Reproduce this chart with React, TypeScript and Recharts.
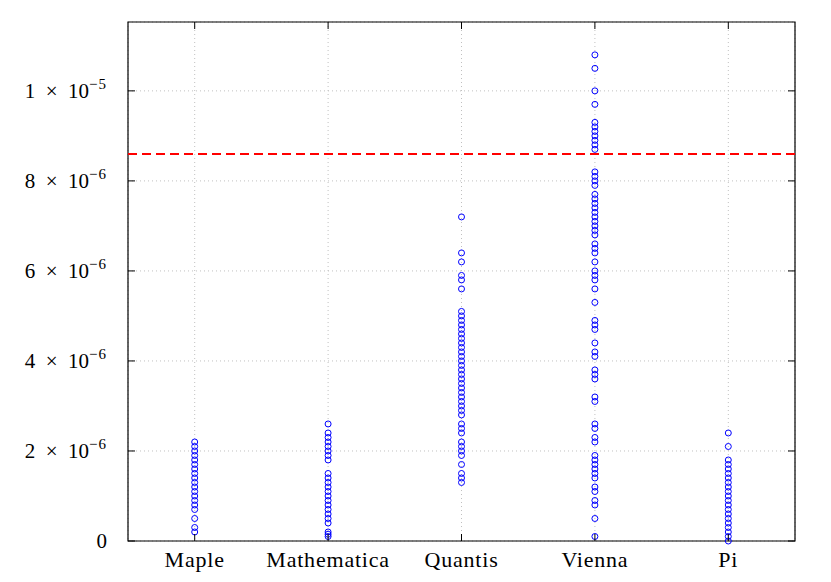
import {
	CartesianGrid,
	ReferenceArea,
	ReferenceLine,
	Scatter,
	ScatterChart,
	XAxis,
	YAxis,
} from "recharts";

// values, in units of 1e-6
const categories = ["Maple", "Mathematica", "Quantis", "Vienna", "Pi"];

const maple = [
	2.2, 2.1, 2.0, 1.9, 1.8, 1.7, 1.6, 1.5, 1.4, 1.3, 1.2, 1.1, 1.0, 0.9, 0.8,
	0.7, 0.5, 0.3, 0.2,
];
const mathematica = [
	2.6, 2.4, 2.3, 2.2, 2.1, 2.0, 1.9, 1.8, 1.5, 1.4, 1.3, 1.2, 1.1, 1.0, 0.9,
	0.8, 0.7, 0.6, 0.5, 0.4, 0.2, 0.15, 0.1,
];
const quantis = [
	7.2, 6.4, 6.2, 5.9, 5.8, 5.6, 5.1, 5.0, 4.9, 4.8, 4.7, 4.6, 4.5, 4.4, 4.3,
	4.2, 4.1, 4.0, 3.9, 3.8, 3.7, 3.6, 3.5, 3.4, 3.3, 3.2, 3.1, 3.0, 2.9, 2.8,
	2.6, 2.5, 2.4, 2.2, 2.1, 2.0, 1.9, 1.7, 1.5, 1.4, 1.3,
];
const vienna = [
	10.8, 10.5, 10.0, 9.7, 9.3, 9.2, 9.1, 9.0, 8.9, 8.8, 8.7, 8.2, 8.1, 8.0, 7.9,
	7.7, 7.6, 7.5, 7.4, 7.3, 7.2, 7.1, 7.0, 6.9, 6.8, 6.6, 6.5, 6.4, 6.2, 6.0,
	5.9, 5.8, 5.6, 5.3, 4.9, 4.8, 4.7, 4.4, 4.2, 4.1, 3.8, 3.7, 3.6, 3.2, 3.1,
	2.6, 2.5, 2.3, 2.2, 1.9, 1.8, 1.7, 1.6, 1.5, 1.4, 1.2, 1.1, 0.9, 0.8, 0.5,
	0.1,
];
const pi = [
	2.4, 2.1, 1.8, 1.7, 1.6, 1.5, 1.4, 1.3, 1.2, 1.1, 1.0, 0.9, 0.8, 0.7, 0.6,
	0.5, 0.4, 0.3, 0.2, 0.1, 0.0,
];

const threshold = 8.6;
const yTicks = [0, 2, 4, 6, 8, 10];
const yMax = 11.53;

const groups = [maple, mathematica, quantis, vienna, pi];

const PLOT = { left: 128, right: 795, top: 22, bottom: 541 };
const FONT = "'Liberation Serif', serif";
const BLUE = "#0000ff";

const scale = (v: number) => v * 1e-6;

function YTick({ y, payload }: any) {
	const v = Math.round(payload.value / 1e-7) / 10;
	let main = "";
	let exp = "";
	if (v === 0) main = "0";
	else if (v >= 10) {
		main = `${v / 10}\u2002×\u200210`;
		exp = "−5";
	} else {
		main = `${v}\u2002×\u200210`;
		exp = "−6";
	}
	return (
		<g>
			<line x1={PLOT.left} x2={PLOT.left + 7} y1={y} y2={y} stroke="#000" />
			<line x1={PLOT.right - 7} x2={PLOT.right} y1={y} y2={y} stroke="#000" />
			<text
				x={107}
				y={y + 7}
				textAnchor="end"
				fontFamily={FONT}
				fontSize={21}
				fill="#000"
			>
				{main}
				{exp && (
					<tspan dy={-9} fontSize={15} letterSpacing={1}>
						{exp}
					</tspan>
				)}
			</text>
		</g>
	);
}

function XTick({ x, payload }: any) {
	return (
		<g>
			<line x1={x} x2={x} y1={PLOT.bottom} y2={PLOT.bottom - 7} stroke="#000" />
			<line x1={x} x2={x} y1={PLOT.top} y2={PLOT.top + 7} stroke="#000" />
			<text
				x={x}
				y={567}
				textAnchor="middle"
				fontFamily={FONT}
				fontSize={22}
				letterSpacing={0.8}
				fill="#000"
			>
				{categories[payload.value]}
			</text>
		</g>
	);
}

const ring = (p: any) => (
	<circle cx={p.cx} cy={p.cy} r={3} fill="none" stroke={BLUE} strokeWidth={1} />
);

export default function App() {
	return (
		<div style={{ margin: -8, width: 831, height: 582, background: "#fff" }}>
			<ScatterChart
				width={831}
				height={582}
				margin={{ top: 22, right: 36, bottom: 0, left: 0 }}
			>
				<CartesianGrid stroke="#c0c0c0" strokeDasharray="1 3" />
				<XAxis
					type="number"
					dataKey="x"
					domain={[-0.5, 4.5]}
					ticks={[0, 1, 2, 3, 4]}
					height={41}
					axisLine={false}
					tickLine={false}
					tick={<XTick />}
					interval={0}
				/>
				<YAxis
					type="number"
					dataKey="y"
					domain={[0, scale(yMax)]}
					ticks={yTicks.map(scale)}
					width={128}
					axisLine={false}
					tickLine={false}
					tick={<YTick />}
					interval={0}
				/>
				<ReferenceArea
					x1={-0.5}
					x2={4.5}
					y1={0}
					y2={scale(yMax)}
					fill="none"
					stroke="#000"
					strokeWidth={1.2}
					ifOverflow="visible"
				/>
				<ReferenceLine
					y={scale(threshold)}
					stroke="#ff0000"
					strokeWidth={2}
					strokeDasharray="9 5"
				/>
				{groups.map((vals, i) => (
					<Scatter
						key={categories[i]}
						name={categories[i]}
						data={vals.map((v) => ({ x: i, y: scale(v) }))}
						shape={ring}
						isAnimationActive={false}
					/>
				))}
			</ScatterChart>
		</div>
	);
}
